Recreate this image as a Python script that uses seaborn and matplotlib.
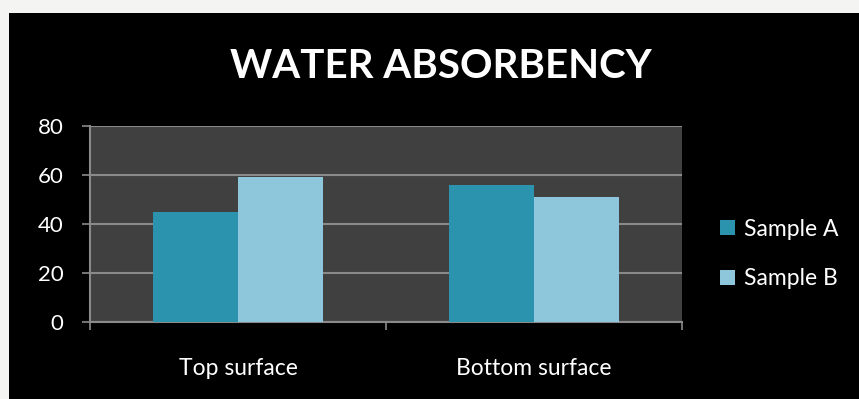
import matplotlib
matplotlib.use("Agg")
import matplotlib.pyplot as plt
from matplotlib.patches import Rectangle
import seaborn as sns
import pandas as pd

categories = ["Top surface", "Bottom surface"]
series = ["Sample A", "Sample B"]
sample_a = [45, 56]
sample_b = [59, 51]
y_ticks = [0, 20, 40, 60, 80]
title = "WATER ABSORBENCY"

colors = {"Sample A": "#2b93ad", "Sample B": "#8ec6dc"}

df = pd.DataFrame({
    "category": categories * 2,
    "series": [series[0]] * len(categories) + [series[1]] * len(categories),
    "value": sample_a + sample_b,
})

sns.set_theme(style="dark")
plt.rcParams["font.family"] = ["Lato", "DejaVu Sans"]

W, H = 859, 399
fig = plt.figure(figsize=(W / 100, H / 100), dpi=100)
fig.patch.set_facecolor("#f4f4f2")
fig.add_artist(Rectangle((9 / W, 0), 1 - 9 / W, (H - 13) / H,
                         transform=fig.transFigure, facecolor="black",
                         edgecolor="none", zorder=0))

ax = fig.add_axes([90 / W, 77 / H, 592 / W, 196 / H])
ax.set_facecolor("#404040")

sns.barplot(data=df, x="category", y="value", hue="series", order=categories,
            hue_order=series, palette=colors, width=0.575, ax=ax,
            edgecolor="none", linewidth=0, saturation=1, zorder=3)

ax.set_ylim(0, 80)
ax.set_xlim(-0.5, len(categories) - 0.5)
ax.set_yticks(y_ticks)
ax.set_yticklabels([str(t) for t in y_ticks], color="white", fontsize=16)
ax.yaxis.grid(True, color="#8a8a8a", linewidth=1.5, zorder=1)
ax.xaxis.grid(False)
ax.set_axisbelow(True)

# category boundary ticks (major), labels on minor ticks
ax.set_xticks([i - 0.5 for i in range(len(categories) + 1)])
ax.set_xticklabels([""] * (len(categories) + 1))
ax.set_xticks(range(len(categories)), minor=True)
ax.set_xticklabels(categories, minor=True, color="white", fontsize=16.5)
ax.tick_params(axis="x", which="major", length=6, width=1.2, color="#8a8a8a",
               bottom=True, direction="out")
ax.tick_params(axis="x", which="minor", length=0, pad=26, bottom=True)
ax.tick_params(axis="y", length=6, width=1.2, color="#8a8a8a", left=True,
               direction="out", pad=13)

ax.set_xlabel("")
ax.set_ylabel("")
for s in ["top", "right"]:
    ax.spines[s].set_visible(False)
for s in ["left", "bottom"]:
    ax.spines[s].set_visible(True)
    ax.spines[s].set_color("#8a8a8a")
    ax.spines[s].set_linewidth(1.5)

handles, labels = ax.get_legend_handles_labels()
if ax.get_legend() is not None:
    ax.get_legend().remove()
leg = fig.legend(handles, labels, loc="center left",
                 bbox_to_anchor=(720 / W, (H - 254) / H),
                 frameon=False, fontsize=16.5, labelcolor="white",
                 handlelength=0.65, handleheight=0.65, handletextpad=0.4,
                 labelspacing=1.25, borderpad=0, borderaxespad=0)

fig.text(441 / W, (H - 67) / H, title, ha="center", va="center",
         color="white", fontsize=29, fontweight="bold")

fig.savefig("out.png", dpi=100, facecolor=fig.get_facecolor())
